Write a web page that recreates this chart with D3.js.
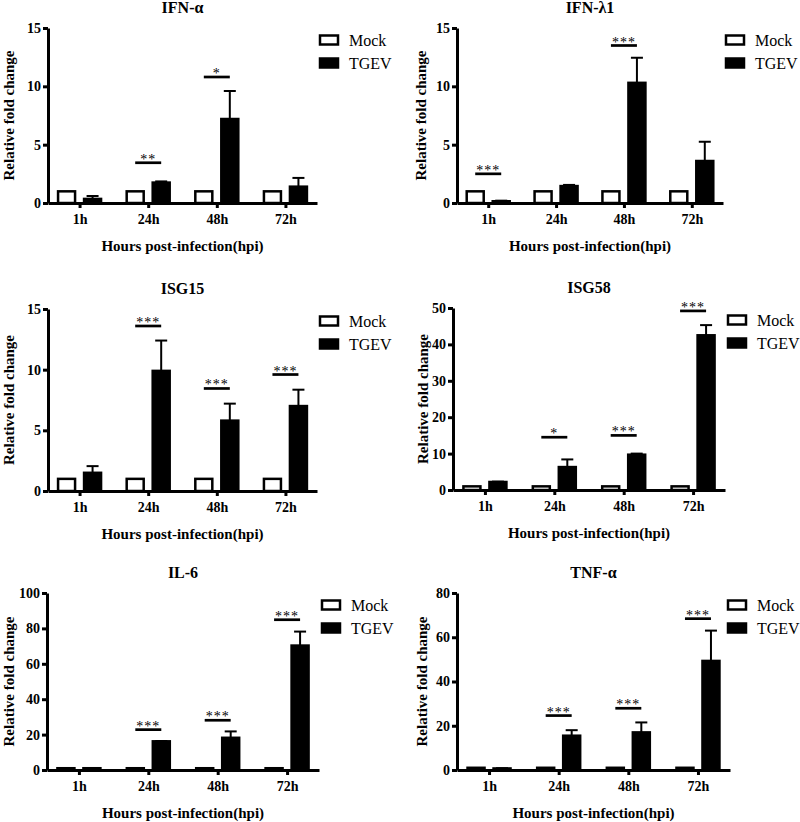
<!DOCTYPE html>
<html>
<head>
<meta charset="utf-8">
<script src="https://cdn.jsdelivr.net/npm/d3@7"></script>
<style>
  html, body { margin: 0; padding: 0; background: #fff; }
  svg { display: block; }
  text { font-family: "Liberation Serif", "Times New Roman", serif; fill: #000; }
</style>
</head>
<body>
<svg id="chart" width="800" height="822"></svg>
<script>
// ---------------- DATA ----------------
const categories = ["1h", "24h", "48h", "72h"];
const seriesNames = ["Mock", "TGEV"];
const titles = ["IFN-α", "IFN-λ1", "ISG15", "ISG58", "IL-6", "TNF-α"];
const yMaxes = [15, 15, 15, 50, 100, 80];
const yTickValues = [
  [0, 5, 10, 15],
  [0, 5, 10, 15],
  [0, 5, 10, 15],
  [0, 10, 20, 30, 40, 50],
  [0, 20, 40, 60, 80, 100],
  [0, 20, 40, 60, 80]
];
const mockMeans = [
  [1, 1, 1, 1],
  [1, 1, 1, 1],
  [1, 1, 1, 1],
  [1, 1, 1, 1],
  [1, 1, 1, 1],
  [1, 1, 1, 1]
];
const tgevMeans = [
  [0.35, 1.75, 7.2, 1.4],
  [0.15, 1.45, 10.3, 3.6],
  [1.5, 9.9, 5.8, 7.0],
  [2.2, 6.3, 9.7, 42.5],
  [1.0, 16.2, 18.2, 70.3],
  [0.7, 15.5, 17.0, 49.3]
];
const tgevErrors = [
  [0.25, 0.1, 2.4, 0.75],
  [0.05, 0.1, 2.15, 1.65],
  [0.55, 2.5, 1.4, 1.35],
  [0.1, 2.1, 0.3, 2.8],
  [0.1, 0.2, 3.6, 7.9],
  [0.1, 2.5, 4.5, 13.7]
];
const sigCats = [
  ["24h", "48h"],
  ["1h", "48h"],
  ["24h", "48h", "72h"],
  ["24h", "48h", "72h"],
  ["24h", "48h", "72h"],
  ["24h", "48h", "72h"]
];
const sigLabels = [
  ["**", "*"],
  ["***", "***"],
  ["***", "***", "***"],
  ["*", "***", "***"],
  ["***", "***", "***"],
  ["***", "***", "***"]
];
const sigLevels = [
  [3.45, 10.8],
  [2.5, 13.5],
  [13.6, 8.45, 9.6],
  [14.5, 15.0, 49.2],
  [22.8, 28.1, 84.9],
  [24.6, 27.9, 68.4]
];
const yAxisTitle = "Relative fold change";
const xAxisTitle = "Hours post-infection(hpi)";

// ---------------- LAYOUT ----------------
const layouts = [
  { x0: 48,  x1: 317, top: 28,  bottom: 203, ylabX: 9,   legText: 32 },
  { x0: 457, x1: 723, top: 28,  bottom: 203, ylabX: 421, legText: 32 },
  { x0: 48,  x1: 317, top: 309, bottom: 491, ylabX: 9,   legText: 32 },
  { x0: 453, x1: 725, top: 308, bottom: 490, ylabX: 423, legText: 32 },
  { x0: 47,  x1: 319, top: 593, bottom: 770, ylabX: 9,   legText: 32 },
  { x0: 457, x1: 730, top: 593, bottom: 770, ylabX: 422, legText: 27 }
];

const svg = d3.select("#chart");

titles.forEach((title, p) => {
  const L = layouts[p];
  const g = svg.append("g");

  const x = d3.scalePoint().domain(categories).range([L.x0, L.x1]).padding(0.46);
  const y = d3.scaleLinear().domain([0, yMaxes[p]]).range([L.bottom, L.top]);
  const off = 13; // half distance between bar centres
  const bw = 17;  // inner bar width

  // Title
  g.append("text")
    .attr("x", (L.x0 + L.x1) / 2)
    .attr("y", L.top - 15)
    .attr("text-anchor", "middle")
    .attr("font-size", 16).attr("font-weight", "bold")
    .text(title);

  // Mock bars
  g.selectAll(".mock").data(categories).enter().append("rect")
    .attr("x", d => x(d) - off - bw / 2)
    .attr("width", bw)
    .attr("y", (d, i) => y(mockMeans[p][i]))
    .attr("height", (d, i) => y(0) - y(mockMeans[p][i]))
    .attr("fill", "#fff").attr("stroke", "#000").attr("stroke-width", 2.5);

  // TGEV bars
  g.selectAll(".tgev").data(categories).enter().append("rect")
    .attr("x", d => x(d) + off - bw / 2)
    .attr("width", bw)
    .attr("y", (d, i) => y(tgevMeans[p][i]))
    .attr("height", (d, i) => y(0) - y(tgevMeans[p][i]))
    .attr("fill", "#000").attr("stroke", "#000").attr("stroke-width", 2.5);

  // Error bars (upper only)
  categories.forEach((c, i) => {
    const cx = x(c) + off;
    const yt = y(tgevMeans[p][i] + tgevErrors[p][i]);
    g.append("line").attr("x1", cx).attr("x2", cx)
      .attr("y1", y(tgevMeans[p][i])).attr("y2", yt)
      .attr("stroke", "#000").attr("stroke-width", 2);
    g.append("line").attr("x1", cx - 6).attr("x2", cx + 6)
      .attr("y1", yt).attr("y2", yt)
      .attr("stroke", "#000").attr("stroke-width", 2);
  });

  // Significance marks
  sigCats[p].forEach((c, k) => {
    const ly = y(sigLevels[p][k]);
    g.append("line")
      .attr("x1", x(c) - off).attr("x2", x(c) + off)
      .attr("y1", ly).attr("y2", ly)
      .attr("stroke", "#000").attr("stroke-width", 2.7);
    g.append("text")
      .attr("x", x(c)).attr("y", ly + 1)
      .attr("text-anchor", "middle")
      .attr("font-size", 14)
      .attr("letter-spacing", 1)
      .text(sigLabels[p][k]);
  });

  // Y axis
  const yAxis = g.append("g")
    .attr("transform", `translate(${L.x0},0)`)
    .call(d3.axisLeft(y).tickValues(yTickValues[p]).tickSize(5).tickSizeOuter(0).tickPadding(2));
  yAxis.select(".domain").attr("stroke-width", 3);
  yAxis.selectAll(".tick line").attr("stroke-width", 3);
  yAxis.selectAll(".tick text")
    .attr("font-family", "Liberation Serif, Times New Roman, serif")
    .attr("font-size", 14).attr("font-weight", "bold");

  // X axis
  const xAxis = g.append("g")
    .attr("transform", `translate(0,${L.bottom})`)
    .call(d3.axisBottom(x).tickSize(5).tickSizeOuter(0).tickPadding(6));
  xAxis.select(".domain").attr("stroke-width", 3);
  xAxis.selectAll(".tick line").attr("stroke-width", 3);
  xAxis.selectAll(".tick text")
    .attr("font-family", "Liberation Serif, Times New Roman, serif")
    .attr("font-size", 14).attr("font-weight", "bold");

  // Axis titles
  g.append("text")
    .attr("x", (L.x0 + L.x1) / 2)
    .attr("y", L.bottom + 48)
    .attr("text-anchor", "middle")
    .attr("font-size", 15).attr("font-weight", "bold")
    .text(xAxisTitle);
  g.append("text")
    .attr("transform", `translate(${L.ylabX},${(L.top + L.bottom) / 2}) rotate(-90)`)
    .attr("dy", "0.35em")
    .attr("text-anchor", "middle")
    .attr("font-size", 15).attr("font-weight", "bold")
    .text(yAxisTitle);

  // Legend
  seriesNames.forEach((name, k) => {
    const cy = L.top + 12 + k * 23;
    g.append("rect")
      .attr("x", L.x1 + L.legText - 29).attr("y", cy - 4.5)
      .attr("width", 18).attr("height", 9)
      .attr("fill", k === 0 ? "#fff" : "#000")
      .attr("stroke", "#000").attr("stroke-width", 2.5);
    g.append("text")
      .attr("x", L.x1 + L.legText).attr("y", cy + 5.5)
      .attr("font-size", 16)
      .text(name);
  });
});
</script>
</body>
</html>
